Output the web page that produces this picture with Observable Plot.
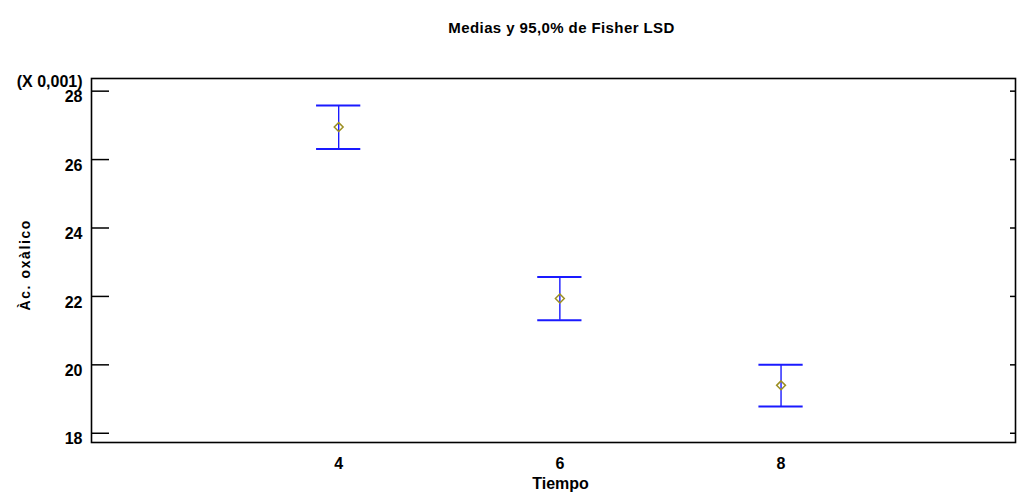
<!DOCTYPE html>
<html>
<head>
<meta charset="utf-8">
<script src="https://cdn.jsdelivr.net/npm/d3@7"></script>
<script src="https://cdn.jsdelivr.net/npm/@observablehq/plot@0.6"></script>
<style>
  html, body { margin: 0; padding: 0; background: #fff; }
  svg { display: block; }
</style>
</head>
<body>
<div id="chart"></div>
<script>
// Data (values in units of 0.001)
const tiempo = [4, 6, 8];
const medias = [26.95, 21.94, 19.40];
const inferior = [26.31, 21.30, 18.78];
const superior = [27.58, 22.57, 20.00];
const yTicks = [18, 20, 22, 24, 26, 28];
const xTicks = [4, 6, 8];
const title = "Medias y 95,0% de Fisher LSD";
const xLabel = "Tiempo";
const yLabel = "Àc. oxàlico";
const scaleNote = "(X 0,001)";

const data = tiempo.map((t, i) => ({t, m: medias[i], lo: inferior[i], hi: superior[i]}));
const capHalf = 0.2;
const font = "'Liberation Sans', Arial, sans-serif";

const plot = Plot.plot({
  width: 1017,
  height: 501,
  marginLeft: 91,
  marginRight: 2,
  marginTop: 78,
  marginBottom: 59,
  style: {fontFamily: font, fontSize: "16px", fontWeight: "bold", background: "#fff", color: "#000"},
  x: {domain: [1.765, 10.12]},
  y: {domain: [17.73, 28.37]},
  marks: [
    Plot.frame({stroke: "#000", strokeWidth: 1.6}),
    // left inward ticks
    Plot.axisY({anchor: "left", ticks: yTicks, tickSize: -18, tickFormat: () => "", strokeWidth: 1.5}),
    // left tick labels
    Plot.axisY({anchor: "left", ticks: yTicks, tickSize: 0, tickPadding: 9, dy: 6, fontSize: 16, label: null}),
    // right inward ticks
    Plot.axisY({anchor: "right", ticks: yTicks, tickSize: -6, tickFormat: () => "", strokeWidth: 1.5, label: null}),
    // x tick labels
    Plot.axisX({anchor: "bottom", ticks: xTicks, tickSize: 0, tickPadding: 15, fontSize: 16, label: null}),
    // error bars
    Plot.ruleX(data, {x: "t", y1: "lo", y2: "hi", stroke: "#1a1aff", strokeWidth: 1.4}),
    Plot.ruleY(data, {y: "hi", x1: d => d.t - capHalf, x2: d => d.t + capHalf, stroke: "#1a1aff", strokeWidth: 2}),
    Plot.ruleY(data, {y: "lo", x1: d => d.t - capHalf, x2: d => d.t + capHalf, stroke: "#1a1aff", strokeWidth: 2}),
    Plot.dot(data, {x: "t", y: "m", symbol: "diamond2", r: 4, stroke: "#9c8f22", strokeWidth: 1.5, fill: "none"}),
    // texts
    Plot.text([title], {frameAnchor: "top", dx: 8, dy: -56, fontSize: 15, fontWeight: "bold"}),
    Plot.text([scaleNote], {frameAnchor: "top-left", textAnchor: "end", dx: -9, dy: -3, fontSize: 16, fontWeight: "bold"}),
    Plot.text([xLabel], {frameAnchor: "bottom", dx: 7, dy: 46, fontSize: 16, fontWeight: "bold"}),
    Plot.text([yLabel], {frameAnchor: "left", rotate: -90, textAnchor: "start", dx: -65.5, dy: 50, fontSize: 14, fontWeight: "bold"})
  ]
});

d3.select(plot).selectAll("text").filter(function() { return this.textContent === yLabel; })
  .style("letter-spacing", "1.6px");
d3.select(plot).selectAll("text").filter(function() { return this.textContent === title; })
  .style("letter-spacing", "0.4px");

document.getElementById("chart").appendChild(plot);
</script>
</body>
</html>
